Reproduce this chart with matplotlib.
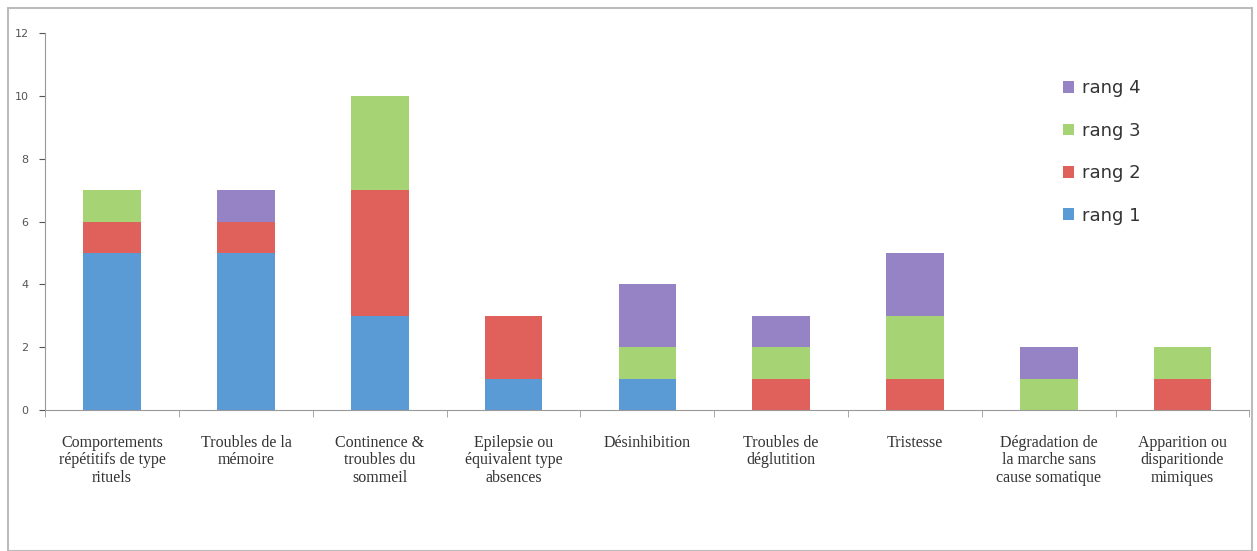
import matplotlib
matplotlib.use("Agg")
import matplotlib.pyplot as plt
from matplotlib.patches import Rectangle
import numpy as np

categories = [
    "Comportements\nrépétitifs de type\nrituels",
    "Troubles de la\nmémoire",
    "Continence &\ntroubles du\nsommeil",
    "Epilepsie ou\néquivalent type\nabsences",
    "Désinhibition",
    "Troubles de\ndéglutition",
    "Tristesse",
    "Dégradation de\nla marche sans\ncause somatique",
    "Apparition ou\ndisparitionde\nmimiques",
]
rang1 = [5, 5, 3, 1, 1, 0, 0, 0, 0]
rang2 = [1, 1, 4, 2, 0, 1, 1, 0, 1]
rang3 = [1, 0, 3, 0, 1, 1, 2, 1, 1]
rang4 = [0, 1, 0, 0, 2, 1, 2, 1, 0]
series_names = ["rang 1", "rang 2", "rang 3", "rang 4"]
colors = ["#5b9bd5", "#e0605c", "#a6d474", "#9583c6"]

fig = plt.figure(figsize=(12.57, 5.51), dpi=100)
ax = fig.add_axes([0.036, 0.256, 0.958, 0.684])

x = np.arange(len(categories))
bottom = np.zeros(len(categories))
handles = []
for name, vals, c in zip(series_names, [rang1, rang2, rang3, rang4], colors):
    h = ax.bar(x, vals, width=0.43, bottom=bottom, color=c, label=name, edgecolor="none")
    handles.append(h)
    bottom += np.array(vals)

ax.set_xlim(-0.5, len(categories) - 0.5)
ax.set_ylim(0, 12)
ax.set_yticks(range(0, 13, 2))
ax.tick_params(axis="y", labelsize=8, colors="#555555", length=4, direction="out", pad=8)
ax.set_xticks(np.arange(-0.5, len(categories), 1), minor=True)
ax.set_xticks(x)
ax.set_xticklabels(categories, fontsize=11.5, family="Liberation Serif", color="#333333",
                   linespacing=1.12)
ax.tick_params(axis="x", which="major", length=0, pad=18)
ax.tick_params(axis="x", which="minor", length=5, color="#999999")
for s in ["top", "right"]:
    ax.spines[s].set_visible(False)
ax.spines["left"].set_color("#999999")
ax.spines["bottom"].set_color("#999999")

leg = ax.legend(handles[::-1], series_names[::-1], loc="upper left",
                bbox_to_anchor=(0.832, 0.92), frameon=False, fontsize=13,
                handlelength=0.6, handleheight=0.6, labelspacing=1.35, handletextpad=0.45)
for t in leg.get_texts():
    t.set_color("#333333")

fig.patches.append(Rectangle((0.006, 0.0), 0.99, 0.985, transform=fig.transFigure,
                             fill=False, edgecolor="#bbbbbb", linewidth=1.5))
fig.savefig("out.png", dpi=100)
